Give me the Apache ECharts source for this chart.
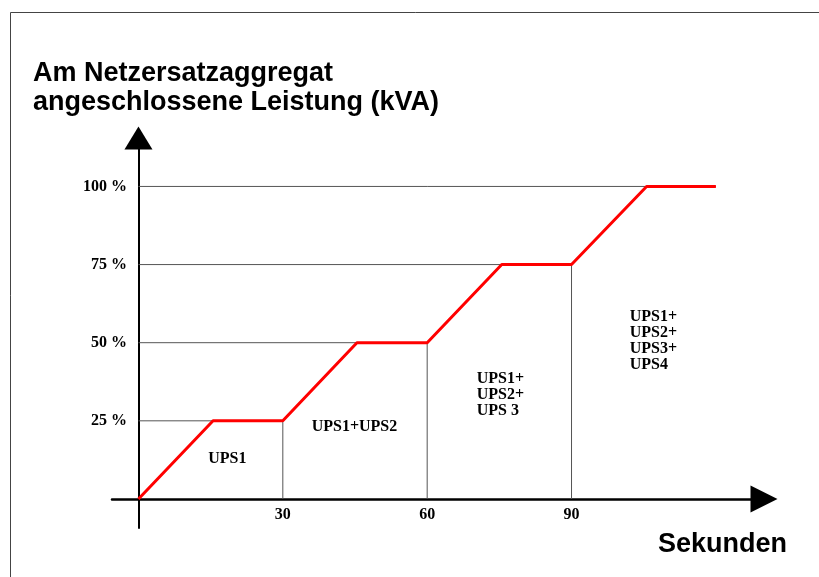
<!DOCTYPE html>
<html>
<head>
<meta charset="utf-8">
<script src="https://cdn.jsdelivr.net/npm/echarts@6/dist/echarts.min.js"></script>
<style>
  html, body { margin: 0; padding: 0; background: #fff; }
  #chart { width: 819px; height: 577px; }
</style>
</head>
<body>
<div id="chart"></div>
<script>
// ticks
const xTicks = [30, 60, 90]
const yTicks = [25, 50, 75, 100]

// power connected to the generator over time (red line)
const powerTimes = [0, 15.5, 30, 45.4, 60, 75.5, 90, 105.6, 120]
const powerValues = [0, 25, 25, 50, 50, 75, 75, 100, 100]

// guide lines: level reached, and second at which the next UPS starts
const guideLevels = [25, 50, 75, 100]
const guideEnds = [30, 60, 90, 120]

// area labels
const boxNames = ['UPS1', 'UPS1+UPS2', 'UPS1+\nUPS2+\nUPS 3', 'UPS1+\nUPS2+\nUPS3+\nUPS4']
const boxX = [14.5, 36, 70.3, 102.1]
const boxY = [12.8, 23.1, 33.3, 50.6]

const serif = '"Liberation Serif", "Times New Roman", serif'
const sans = '"Liberation Sans", Arial, sans-serif'

const guideSeries = guideLevels.map((lvl, i) => {
  const pts = [[0, lvl], [guideEnds[i], lvl]]
  if (i < guideLevels.length - 1) pts.push([guideEnds[i], 0])
  return {
    type: 'line',
    data: pts,
    symbol: 'none',
    silent: true,
    z: 2,
    lineStyle: { color: '#555', width: 1 },
  }
})

const chart = echarts.init(document.getElementById('chart'))
chart.setOption({
  animation: false,
  backgroundColor: '#fff',
  title: [
    {
      text: 'Am Netzersatzaggregat\nangeschlossene Leistung (kVA)',
      left: 33,
      top: 59,
      padding: 0,
      textStyle: { fontFamily: sans, fontWeight: 'bold', fontSize: 27, lineHeight: 29, color: '#000' },
    },
    {
      text: 'Sekunden',
      left: 658,
      top: 531,
      padding: 0,
      textStyle: { fontFamily: sans, fontWeight: 'bold', fontSize: 27, lineHeight: 27, color: '#000' },
    },
  ],
  graphic: [
    {
      type: 'rect',
      shape: { x: 10.5, y: 12.5, width: 1000, height: 1000 },
      style: { fill: 'none', stroke: '#444', lineWidth: 1 },
      silent: true,
    },
  ],
  grid: {
    left: 112,
    top: 138,
    width: 652,
    height: 390,
    containLabel: false,
    outerBoundsMode: 'none',
  },
  xAxis: {
    type: 'value',
    min: -5.5,
    max: 130,
    axisLine: {
      onZero: true,
      lineStyle: { color: '#000', width: 2.5 },
      symbol: ['none', 'triangle'],
      symbolSize: [27, 27],
    },
    axisTick: { show: false },
    splitLine: { show: false },
    axisLabel: {
      customValues: xTicks,
      margin: -21,
      fontFamily: serif,
      fontWeight: 'bold',
      fontSize: 16,
      color: '#000',
    },
  },
  yAxis: {
    type: 'value',
    min: -9.3,
    max: 115.5,
    axisLine: {
      onZero: true,
      lineStyle: { color: '#000', width: 2 },
      symbol: ['none', 'triangle'],
      symbolSize: [28, 23],
    },
    axisTick: { show: false },
    splitLine: { show: false },
    axisLabel: {
      customValues: yTicks,
      margin: -15,
      formatter: '{value} %',
      fontFamily: serif,
      fontWeight: 'bold',
      fontSize: 16,
      color: '#000',
    },
  },
  series: [
    ...guideSeries,
    {
      type: 'line',
      data: powerTimes.map((t, i) => [t, powerValues[i]]),
      symbol: 'none',
      silent: true,
      z: 5,
      lineStyle: { color: '#ff0000', width: 3 },
    },
    {
      type: 'scatter',
      symbolSize: 0,
      silent: true,
      z: 6,
      itemStyle: { opacity: 1 },
      data: boxNames.map((n, i) => ({ name: n, value: [boxX[i], boxY[i]] })),
      label: {
        show: true,
        position: [0, 0],
        align: 'left',
        verticalAlign: 'middle',
        formatter: (p) => p.name,
        fontFamily: serif,
        fontWeight: 'bold',
        fontSize: 16,
        lineHeight: 16,
        color: '#000',
        opacity: 1,
      },
    },
  ],
})
</script>
</body>
</html>
